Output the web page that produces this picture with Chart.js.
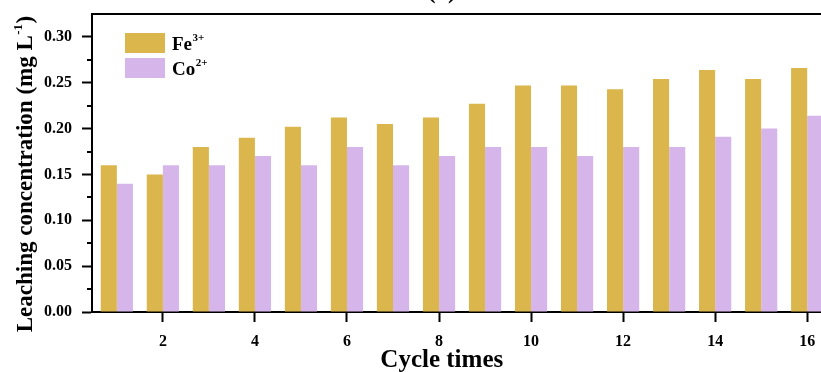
<!DOCTYPE html>
<html><head><meta charset="utf-8">
<script src="https://cdn.jsdelivr.net/npm/chart.js@4/dist/chart.umd.min.js"></script>
<style>html,body{margin:0;padding:0;background:#fff;overflow:hidden}#wrap{width:821px;height:372px;position:relative}</style>
</head><body><div id="wrap"><canvas id="c" width="821" height="372"></canvas></div>
<script>
// ---- data ----
const cycles = [1, 2, 3, 4, 5, 6, 7, 8, 9, 10, 11, 12, 13, 14, 15, 16];
const feValues = [0.160, 0.150, 0.180, 0.190, 0.202, 0.212, 0.205, 0.212, 0.227, 0.247, 0.247, 0.243, 0.254, 0.264, 0.254, 0.266];
const coValues = [0.140, 0.160, 0.160, 0.170, 0.160, 0.180, 0.160, 0.170, 0.180, 0.180, 0.170, 0.180, 0.180, 0.191, 0.200, 0.214];
const seriesNames = ['Fe', 'Co'];
const seriesCharges = ['3+', '2+'];
const xTicks = [2, 4, 6, 8, 10, 12, 14, 16];
const yTicks = [0, 0.05, 0.10, 0.15, 0.20, 0.25, 0.30];
const yMinorTicks = [0.025, 0.075, 0.125, 0.175, 0.225, 0.275];
const xTitle = 'Cycle times';
const yTitleMain = 'Leaching concentration (mg L';
const yTitleSup = '-1';
const yTitleEnd = ')';
const panelLabel = '(a)';

const FONT = '"Liberation Serif", "Times New Roman", serif';
const colors = ['#DAB64C', '#D6B6EA'];

const extras = {
  id: 'extras',
  afterDraw(chart) {
    const ctx = chart.ctx, ca = chart.chartArea;
    const xs = chart.scales.x, ys = chart.scales.y;
    ctx.save();
    // top frame
    ctx.strokeStyle = '#000'; ctx.lineWidth = 2;
    ctx.beginPath(); ctx.moveTo(ca.left - 1, ca.top); ctx.lineTo(ca.right, ca.top); ctx.stroke();
    // minor y ticks
    ctx.lineWidth = 2;
    yMinorTicks.forEach(v => {
      const y = Math.round(ys.getPixelForValue(v));
      ctx.beginPath(); ctx.moveTo(ca.left - 5, y); ctx.lineTo(ca.left, y); ctx.stroke();
    });
    // legend
    chart.data.datasets.forEach((ds, i) => {
      const bx = ca.left + 33, by = ca.top + 19 + i * 25;
      ctx.fillStyle = ds.backgroundColor;
      ctx.fillRect(bx, by, 40, 20);
      ctx.fillStyle = '#000';
      ctx.textAlign = 'left'; ctx.textBaseline = 'alphabetic';
      ctx.font = 'bold 19px ' + FONT;
      const tx = bx + 47, ty = by + 17;
      ctx.fillText(seriesNames[i], tx, ty);
      const w = ctx.measureText(seriesNames[i]).width;
      ctx.font = 'bold 11px ' + FONT;
      ctx.fillText(seriesCharges[i], tx + w + 0.5, ty - 9.5);
    });
    // x title
    ctx.font = 'bold 25px ' + FONT;
    ctx.textAlign = 'center'; ctx.textBaseline = 'alphabetic';
    ctx.fillText(xTitle, xs.getPixelForValue(8.06), 367);
    // panel label (cut at top)
    ctx.fillText(panelLabel, xs.getPixelForValue(8.06), -2.5);
    // y title with superscript
    ctx.translate(32, 174);
    ctx.rotate(-Math.PI / 2);
    ctx.textAlign = 'left';
    ctx.font = 'bold 23px ' + FONT;
    const w1 = ctx.measureText(yTitleMain).width;
    const w3 = ctx.measureText(yTitleEnd).width;
    ctx.font = 'bold 13px ' + FONT;
    const w2 = ctx.measureText(yTitleSup).width;
    const total = w1 + w2 + w3 + 1;
    let x0 = -total / 2;
    ctx.font = 'bold 23px ' + FONT;
    ctx.fillText(yTitleMain, x0, 0);
    ctx.font = 'bold 13px ' + FONT;
    ctx.fillText(yTitleSup, x0 + w1 + 0.5, -10);
    ctx.font = 'bold 23px ' + FONT;
    ctx.fillText(yTitleEnd, x0 + w1 + w2 + 1, 0);
    ctx.restore();
  }
};

new Chart(document.getElementById('c'), {
  type: 'bar',
  data: {
    datasets: [
      { label: 'Fe³⁺', data: cycles.map((c, i) => ({ x: c, y: feValues[i] })), backgroundColor: colors[0], borderWidth: 0 },
      { label: 'Co²⁺', data: cycles.map((c, i) => ({ x: c, y: coValues[i] })), backgroundColor: colors[1], borderWidth: 0 }
    ]
  },
  options: {
    responsive: false,
    animation: false,
    events: [],
    categoryPercentage: 0.7,
    barPercentage: 1.0,
    layout: { padding: { top: 14, left: 0, right: 0, bottom: 0 } },
    plugins: { legend: { display: false }, tooltip: { enabled: false }, title: { display: false } },
    scales: {
      x: {
        type: 'linear', min: 0.46, max: 16.3, offset: false, z: 1,
        afterBuildTicks: s => { s.ticks = xTicks.map(v => ({ value: v })); },
        afterFit: s => { s.height = 60; s.paddingLeft = 0; s.paddingRight = 0; },
        grid: { display: true, offset: false, drawOnChartArea: false, drawTicks: true, tickLength: 10, tickWidth: 2, tickColor: '#000' },
        border: { display: true, color: '#000', width: 2 },
        ticks: { color: '#000', padding: 10, maxRotation: 0, autoSkip: false, font: { family: FONT, weight: 'bold', size: 16 }, callback: v => String(v) }
      },
      y: {
        type: 'linear', min: 0, max: 0.325, z: 1,
        afterBuildTicks: s => { s.ticks = yTicks.map(v => ({ value: v })); },
        afterFit: s => { s.width = 92; s.paddingTop = 0; s.paddingBottom = 0; },
        grid: { display: true, drawOnChartArea: false, drawTicks: true, tickLength: 10, tickWidth: 2, tickColor: '#000' },
        border: { display: true, color: '#000', width: 2 },
        ticks: { color: '#000', padding: 10, font: { family: FONT, weight: 'bold', size: 16 }, callback: v => Number(v).toFixed(2) }
      }
    }
  },
  plugins: [extras]
});
</script>
</body></html>
